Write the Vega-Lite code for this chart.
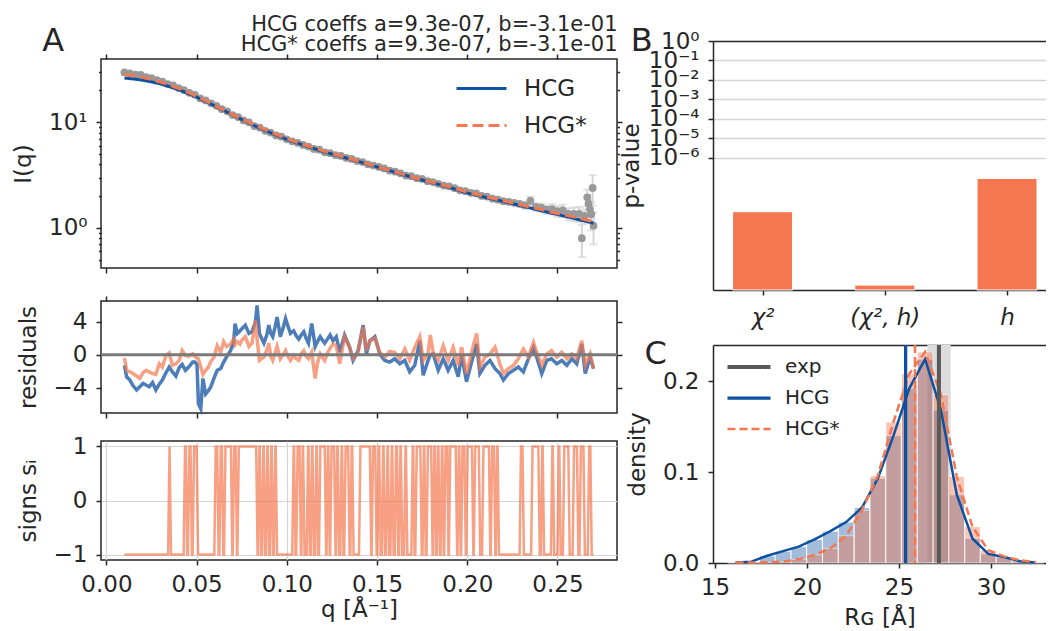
{
"$schema": "https://vega.github.io/schema/vega-lite/v6.json",
"padding": {"left": 11, "top": 12, "right": 0, "bottom": 0},
"datasets": {
"exp": [{"q":0.010,"I":29.6},{"q":0.013,"I":29.0},{"q":0.016,"I":28.2},{"q":0.019,"I":28.1},{"q":0.022,"I":26.8},{"q":0.025,"I":26.2},{"q":0.028,"I":25.1},{"q":0.031,"I":24.3},{"q":0.034,"I":23.0},{"q":0.037,"I":22.3},{"q":0.040,"I":21.1},{"q":0.043,"I":20.2},{"q":0.046,"I":19.0},{"q":0.049,"I":18.2},{"q":0.052,"I":16.8},{"q":0.055,"I":16.1},{"q":0.058,"I":15.1},{"q":0.061,"I":14.3},{"q":0.064,"I":13.3},{"q":0.067,"I":12.7},{"q":0.070,"I":11.7},{"q":0.073,"I":11.2},{"q":0.076,"I":10.4},{"q":0.079,"I":10.0},{"q":0.082,"I":9.2},{"q":0.085,"I":8.9},{"q":0.088,"I":8.3},{"q":0.091,"I":8.0},{"q":0.094,"I":7.5},{"q":0.097,"I":7.3},{"q":0.100,"I":6.9},{"q":0.103,"I":6.6},{"q":0.106,"I":6.4},{"q":0.109,"I":6.1},{"q":0.112,"I":5.9},{"q":0.115,"I":5.6},{"q":0.118,"I":5.5},{"q":0.121,"I":5.2},{"q":0.124,"I":5.1},{"q":0.127,"I":4.9},{"q":0.130,"I":4.8},{"q":0.133,"I":4.6},{"q":0.136,"I":4.5},{"q":0.139,"I":4.3},{"q":0.142,"I":4.2},{"q":0.145,"I":4.0},{"q":0.148,"I":3.9},{"q":0.151,"I":3.78},{"q":0.154,"I":3.66},{"q":0.157,"I":3.49},{"q":0.160,"I":3.41},{"q":0.163,"I":3.29},{"q":0.166,"I":3.13},{"q":0.169,"I":3.09},{"q":0.172,"I":2.96},{"q":0.175,"I":2.91},{"q":0.178,"I":2.77},{"q":0.181,"I":2.72},{"q":0.184,"I":2.62},{"q":0.187,"I":2.52},{"q":0.190,"I":2.48},{"q":0.193,"I":2.38},{"q":0.196,"I":2.27},{"q":0.199,"I":2.23},{"q":0.202,"I":2.15},{"q":0.205,"I":2.12},{"q":0.208,"I":2.01},{"q":0.211,"I":1.98},{"q":0.214,"I":1.89},{"q":0.217,"I":1.85},{"q":0.220,"I":1.79},{"q":0.223,"I":1.77},{"q":0.226,"I":1.73},{"q":0.229,"I":1.69},{"q":0.232,"I":1.64},{"q":0.235,"I":1.80},{"q":0.238,"I":1.58},{"q":0.241,"I":1.56},{"q":0.244,"I":1.49},{"q":0.247,"I":1.51},{"q":0.250,"I":1.44},{"q":0.253,"I":1.47},{"q":0.256,"I":1.36},{"q":0.259,"I":1.36},{"q":0.262,"I":1.36},{"q":0.2635,"I":0.80},{"q":0.265,"I":1.30},{"q":0.2665,"I":1.95},{"q":0.2672,"I":1.70},{"q":0.268,"I":1.50},{"q":0.2688,"I":1.35},{"q":0.2695,"I":2.39},{"q":0.270,"I":1.05}],
"err": [{"q":0.232,"lo":1.52,"hi":1.76},{"q":0.235,"lo":1.62,"hi":1.98},{"q":0.238,"lo":1.45,"hi":1.71},{"q":0.241,"lo":1.42,"hi":1.70},{"q":0.244,"lo":1.35,"hi":1.63},{"q":0.247,"lo":1.34,"hi":1.68},{"q":0.250,"lo":1.27,"hi":1.61},{"q":0.253,"lo":1.28,"hi":1.66},{"q":0.256,"lo":1.18,"hi":1.54},{"q":0.259,"lo":1.16,"hi":1.56},{"q":0.262,"lo":1.14,"hi":1.58},{"q":0.2635,"lo":0.53,"hi":1.07},{"q":0.265,"lo":1.10,"hi":1.50},{"q":0.2665,"lo":1.60,"hi":2.30},{"q":0.2672,"lo":1.35,"hi":2.05},{"q":0.268,"lo":1.15,"hi":1.85},{"q":0.2688,"lo":0.95,"hi":1.75},{"q":0.2695,"lo":1.62,"hi":3.16},{"q":0.270,"lo":0.70,"hi":1.40}],
"fit": [{"q":0.01,"model":"HCG","I":26.2},{"q":0.02,"model":"HCG","I":25.0},{"q":0.03,"model":"HCG","I":23.0},{"q":0.04,"model":"HCG","I":20.3},{"q":0.05,"model":"HCG","I":17.3},{"q":0.06,"model":"HCG","I":14.3},{"q":0.07,"model":"HCG","I":11.75},{"q":0.08,"model":"HCG","I":9.65},{"q":0.09,"model":"HCG","I":8.1},{"q":0.10,"model":"HCG","I":6.9},{"q":0.11,"model":"HCG","I":6.02},{"q":0.12,"model":"HCG","I":5.3},{"q":0.13,"model":"HCG","I":4.74},{"q":0.14,"model":"HCG","I":4.24},{"q":0.15,"model":"HCG","I":3.78},{"q":0.16,"model":"HCG","I":3.37},{"q":0.17,"model":"HCG","I":3.0},{"q":0.18,"model":"HCG","I":2.7},{"q":0.19,"model":"HCG","I":2.42},{"q":0.20,"model":"HCG","I":2.15},{"q":0.21,"model":"HCG","I":1.95},{"q":0.22,"model":"HCG","I":1.78},{"q":0.23,"model":"HCG","I":1.62},{"q":0.24,"model":"HCG","I":1.47},{"q":0.25,"model":"HCG","I":1.34},{"q":0.26,"model":"HCG","I":1.22},{"q":0.27,"model":"HCG","I":1.11},
{"q":0.01,"model":"HCG*","I":28.3},{"q":0.02,"model":"HCG*","I":26.6},{"q":0.03,"model":"HCG*","I":24.0},{"q":0.04,"model":"HCG*","I":20.9},{"q":0.05,"model":"HCG*","I":17.6},{"q":0.06,"model":"HCG*","I":14.45},{"q":0.07,"model":"HCG*","I":11.83},{"q":0.08,"model":"HCG*","I":9.77},{"q":0.09,"model":"HCG*","I":8.22},{"q":0.10,"model":"HCG*","I":7.0},{"q":0.11,"model":"HCG*","I":6.1},{"q":0.12,"model":"HCG*","I":5.37},{"q":0.13,"model":"HCG*","I":4.79},{"q":0.14,"model":"HCG*","I":4.27},{"q":0.15,"model":"HCG*","I":3.8},{"q":0.16,"model":"HCG*","I":3.39},{"q":0.17,"model":"HCG*","I":3.02},{"q":0.18,"model":"HCG*","I":2.72},{"q":0.19,"model":"HCG*","I":2.45},{"q":0.20,"model":"HCG*","I":2.18},{"q":0.21,"model":"HCG*","I":1.98},{"q":0.22,"model":"HCG*","I":1.81},{"q":0.23,"model":"HCG*","I":1.65},{"q":0.24,"model":"HCG*","I":1.51},{"q":0.25,"model":"HCG*","I":1.37},{"q":0.26,"model":"HCG*","I":1.26},{"q":0.27,"model":"HCG*","I":1.15}],
"res": [{"q":0.0100,"rH":-1.3,"rS":-0.4},{"q":0.0112,"rH":-2.7,"rS":-1.9},{"q":0.0130,"rH":-3.1,"rS":-2.1},{"q":0.0148,"rH":-3.8,"rS":-2.3},{"q":0.0167,"rH":-4.3,"rS":-2.6},{"q":0.0185,"rH":-3.9,"rS":-2.9},{"q":0.0203,"rH":-3.5,"rS":-2.2},{"q":0.0220,"rH":-3.7,"rS":-1.9},{"q":0.0237,"rH":-3.9,"rS":-2.1},{"q":0.0256,"rH":-3.4,"rS":-2.3},{"q":0.0274,"rH":-4.3,"rS":-2.4},{"q":0.0293,"rH":-3.6,"rS":-1.1},{"q":0.0310,"rH":-3.1,"rS":-1.5},{"q":0.0330,"rH":-2.2,"rS":-0.1},{"q":0.0348,"rH":-1.5,"rS":0.2},{"q":0.0366,"rH":-2.1,"rS":-1.3},{"q":0.0385,"rH":-2.6,"rS":-1.1},{"q":0.0403,"rH":-1.6,"rS":-0.7},{"q":0.0420,"rH":-1.2,"rS":0.5},{"q":0.0438,"rH":-1.9,"rS":-0.1},{"q":0.0456,"rH":-1.5,"rS":-0.2},{"q":0.0478,"rH":-0.9,"rS":0.1},{"q":0.0490,"rH":-0.9,"rS":-0.2},{"q":0.0502,"rH":-1.2,"rS":-0.4},{"q":0.0510,"rH":-6.0,"rS":-0.5},{"q":0.0523,"rH":-6.6,"rS":-1.5},{"q":0.0535,"rH":-2.9,"rS":-2.4},{"q":0.0550,"rH":-4.8,"rS":-1.9},{"q":0.0565,"rH":-4.4,"rS":-1.5},{"q":0.0577,"rH":-4.0,"rS":-0.9},{"q":0.0596,"rH":-2.9,"rS":-0.3},{"q":0.0614,"rH":-1.9,"rS":1.1},{"q":0.0633,"rH":-1.7,"rS":0.3},{"q":0.0650,"rH":-0.9,"rS":1.6},{"q":0.0665,"rH":-0.3,"rS":1.0},{"q":0.0688,"rH":0.5,"rS":1.3},{"q":0.0705,"rH":1.5,"rS":1.9},{"q":0.0713,"rH":3.8,"rS":1.2},{"q":0.0726,"rH":2.6,"rS":1.6},{"q":0.0740,"rH":2.9,"rS":1.3},{"q":0.0752,"rH":3.2,"rS":1.8},{"q":0.0770,"rH":3.6,"rS":2.2},{"q":0.0790,"rH":2.6,"rS":1.0},{"q":0.0807,"rH":2.8,"rS":1.4},{"q":0.0826,"rH":4.0,"rS":4.2},{"q":0.0835,"rH":6.0,"rS":2.0},{"q":0.0848,"rH":2.6,"rS":-0.7},{"q":0.0860,"rH":2.0,"rS":-0.5},{"q":0.0873,"rH":1.4,"rS":-0.3},{"q":0.0890,"rH":2.5,"rS":0.6},{"q":0.0900,"rH":3.6,"rS":1.4},{"q":0.0911,"rH":2.6,"rS":-0.2},{"q":0.0922,"rH":2.2,"rS":-0.7},{"q":0.0935,"rH":3.4,"rS":0.2},{"q":0.0946,"rH":4.6,"rS":1.0},{"q":0.0964,"rH":2.2,"rS":-0.5},{"q":0.0980,"rH":3.3,"rS":0.0},{"q":0.0993,"rH":4.4,"rS":0.5},{"q":0.1006,"rH":3.5,"rS":-0.2},{"q":0.1020,"rH":2.6,"rS":-0.7},{"q":0.1038,"rH":2.9,"rS":-0.1},{"q":0.1052,"rH":2.3,"rS":-0.5},{"q":0.1066,"rH":1.9,"rS":-0.7},{"q":0.1080,"rH":2.4,"rS":0.1},{"q":0.1094,"rH":2.8,"rS":0.5},{"q":0.1107,"rH":2.0,"rS":-0.2},{"q":0.1120,"rH":1.4,"rS":-0.5},{"q":0.1138,"rH":3.8,"rS":0.3},{"q":0.1157,"rH":1.0,"rS":-2.9},{"q":0.1170,"rH":1.6,"rS":-1.0},{"q":0.1185,"rH":2.2,"rS":0.1},{"q":0.1197,"rH":1.8,"rS":-0.3},{"q":0.1210,"rH":1.4,"rS":-0.7},{"q":0.1225,"rH":1.9,"rS":0.2},{"q":0.1240,"rH":2.4,"rS":0.8},{"q":0.1256,"rH":1.7,"rS":1.3},{"q":0.1274,"rH":2.2,"rS":1.1},{"q":0.1293,"rH":0.3,"rS":-1.1},{"q":0.1320,"rH":2.4,"rS":2.2},{"q":0.1348,"rH":0.9,"rS":0.9},{"q":0.1367,"rH":-0.7,"rS":-0.5},{"q":0.1395,"rH":0.5,"rS":0.3},{"q":0.1423,"rH":3.6,"rS":3.4},{"q":0.1441,"rH":0.1,"rS":0.5},{"q":0.1460,"rH":1.7,"rS":1.7},{"q":0.1488,"rH":2.2,"rS":2.0},{"q":0.1515,"rH":0.1,"rS":0.3},{"q":0.1543,"rH":-0.7,"rS":-0.3},{"q":0.1570,"rH":-0.9,"rS":0.4},{"q":0.1598,"rH":-0.5,"rS":0.3},{"q":0.1626,"rH":-1.1,"rS":-0.5},{"q":0.1654,"rH":-0.7,"rS":0.7},{"q":0.1681,"rH":-2.1,"rS":-0.7},{"q":0.1709,"rH":-1.3,"rS":0.9},{"q":0.1737,"rH":1.7,"rS":2.2},{"q":0.1756,"rH":-2.5,"rS":-0.7},{"q":0.1783,"rH":-0.7,"rS":0.2},{"q":0.1795,"rH":0.0,"rS":2.4},{"q":0.1811,"rH":0.1,"rS":0.3},{"q":0.1839,"rH":-1.9,"rS":-0.7},{"q":0.1867,"rH":-0.5,"rS":1.1},{"q":0.1894,"rH":-1.9,"rS":-0.7},{"q":0.1922,"rH":-0.7,"rS":0.9},{"q":0.1950,"rH":-2.7,"rS":-1.3},{"q":0.1969,"rH":-0.1,"rS":0.9},{"q":0.1996,"rH":-3.3,"rS":-2.3},{"q":0.2024,"rH":-0.9,"rS":0.3},{"q":0.2052,"rH":1.3,"rS":2.6},{"q":0.2070,"rH":-2.3,"rS":-1.5},{"q":0.2098,"rH":-1.3,"rS":-0.3},{"q":0.2126,"rH":-0.7,"rS":0.1},{"q":0.2154,"rH":-1.7,"rS":0.9},{"q":0.2181,"rH":-2.3,"rS":-1.1},{"q":0.2200,"rH":-3.1,"rS":-2.3},{"q":0.2228,"rH":-2.3,"rS":-1.7},{"q":0.2256,"rH":-1.9,"rS":-1.3},{"q":0.2283,"rH":-1.5,"rS":-0.5},{"q":0.2311,"rH":-2.1,"rS":0.7},{"q":0.2339,"rH":-0.5,"rS":-0.3},{"q":0.2367,"rH":0.9,"rS":1.5},{"q":0.2385,"rH":-0.3,"rS":0.3},{"q":0.2413,"rH":-2.3,"rS":-1.3},{"q":0.2441,"rH":-0.7,"rS":0.1},{"q":0.2467,"rH":-0.5,"rS":0.5},{"q":0.2496,"rH":-1.1,"rS":-0.3},{"q":0.2524,"rH":-0.7,"rS":0.3},{"q":0.2552,"rH":-1.3,"rS":-0.5},{"q":0.2580,"rH":-0.5,"rS":0.1},{"q":0.2607,"rH":-1.1,"rS":-0.5},{"q":0.2635,"rH":1.3,"rS":1.7},{"q":0.2654,"rH":-2.3,"rS":-1.3},{"q":0.2681,"rH":-0.3,"rS":0.1},{"q":0.2700,"rH":-1.7,"rS":-1.7}],
"signs": [{"q":0.01,"s":-1},{"q":0.0342,"s":-1},{"q":0.035,"s":1},{"q":0.0358,"s":-1},{"q":0.0428,"s":-1},{"q":0.0436,"s":1},{"q":0.044,"s":1},{"q":0.0448,"s":-1},{"q":0.0452,"s":-1},{"q":0.046,"s":1},{"q":0.0466,"s":1},{"q":0.0474,"s":-1},{"q":0.0478,"s":-1},{"q":0.0486,"s":1},{"q":0.05,"s":1},{"q":0.0508,"s":-1},{"q":0.0598,"s":-1},{"q":0.0606,"s":1},{"q":0.0614,"s":1},{"q":0.0622,"s":-1},{"q":0.0626,"s":-1},{"q":0.0634,"s":1},{"q":0.064,"s":1},{"q":0.0648,"s":-1},{"q":0.0652,"s":-1},{"q":0.066,"s":1},{"q":0.069,"s":1},{"q":0.0698,"s":-1},{"q":0.07,"s":-1},{"q":0.0708,"s":1},{"q":0.0716,"s":1},{"q":0.0724,"s":-1},{"q":0.0726,"s":-1},{"q":0.0734,"s":1},{"q":0.083,"s":1},{"q":0.0838,"s":-1},{"q":0.084,"s":-1},{"q":0.0848,"s":1},{"q":0.085,"s":1},{"q":0.0858,"s":-1},{"q":0.0862,"s":-1},{"q":0.087,"s":1},{"q":0.0872,"s":1},{"q":0.088,"s":-1},{"q":0.0884,"s":-1},{"q":0.0892,"s":1},{"q":0.0894,"s":1},{"q":0.0902,"s":-1},{"q":0.0906,"s":-1},{"q":0.0914,"s":1},{"q":0.0916,"s":1},{"q":0.0924,"s":-1},{"q":0.0928,"s":-1},{"q":0.0936,"s":1},{"q":0.0938,"s":1},{"q":0.0946,"s":-1},{"q":0.103,"s":-1},{"q":0.1038,"s":1},{"q":0.104,"s":1},{"q":0.1048,"s":-1},{"q":0.1052,"s":-1},{"q":0.106,"s":1},{"q":0.107,"s":1},{"q":0.1078,"s":-1},{"q":0.108,"s":-1},{"q":0.1088,"s":1},{"q":0.109,"s":1},{"q":0.1098,"s":-1},{"q":0.111,"s":-1},{"q":0.1118,"s":1},{"q":0.112,"s":1},{"q":0.1128,"s":-1},{"q":0.1132,"s":-1},{"q":0.114,"s":1},{"q":0.1142,"s":1},{"q":0.115,"s":-1},{"q":0.1156,"s":-1},{"q":0.1164,"s":1},{"q":0.1166,"s":1},{"q":0.1174,"s":-1},{"q":0.1178,"s":-1},{"q":0.1186,"s":1},{"q":0.121,"s":1},{"q":0.1218,"s":-1},{"q":0.122,"s":-1},{"q":0.1228,"s":1},{"q":0.123,"s":1},{"q":0.1238,"s":-1},{"q":0.124,"s":-1},{"q":0.1248,"s":1},{"q":0.1262,"s":1},{"q":0.127,"s":-1},{"q":0.1272,"s":-1},{"q":0.128,"s":1},{"q":0.1282,"s":1},{"q":0.129,"s":-1},{"q":0.1296,"s":-1},{"q":0.1304,"s":1},{"q":0.1306,"s":1},{"q":0.1314,"s":-1},{"q":0.1318,"s":-1},{"q":0.1326,"s":1},{"q":0.134,"s":1},{"q":0.1348,"s":-1},{"q":0.1352,"s":-1},{"q":0.136,"s":1},{"q":0.1362,"s":1},{"q":0.137,"s":-1},{"q":0.14,"s":-1},{"q":0.1408,"s":1},{"q":0.146,"s":1},{"q":0.1468,"s":-1},{"q":0.147,"s":-1},{"q":0.1478,"s":1},{"q":0.149,"s":1},{"q":0.1498,"s":-1},{"q":0.1502,"s":-1},{"q":0.151,"s":1},{"q":0.1512,"s":1},{"q":0.152,"s":-1},{"q":0.1526,"s":-1},{"q":0.1534,"s":1},{"q":0.1536,"s":1},{"q":0.1544,"s":-1},{"q":0.155,"s":-1},{"q":0.1558,"s":1},{"q":0.156,"s":1},{"q":0.1568,"s":-1},{"q":0.1574,"s":-1},{"q":0.1582,"s":1},{"q":0.1584,"s":1},{"q":0.1592,"s":-1},{"q":0.1598,"s":-1},{"q":0.1606,"s":1},{"q":0.161,"s":1},{"q":0.1618,"s":-1},{"q":0.1622,"s":-1},{"q":0.163,"s":1},{"q":0.1632,"s":1},{"q":0.164,"s":-1},{"q":0.165,"s":-1},{"q":0.1658,"s":1},{"q":0.166,"s":1},{"q":0.1668,"s":-1},{"q":0.169,"s":-1},{"q":0.1698,"s":1},{"q":0.17,"s":1},{"q":0.1708,"s":-1},{"q":0.1712,"s":-1},{"q":0.172,"s":1},{"q":0.174,"s":1},{"q":0.1748,"s":-1},{"q":0.1752,"s":-1},{"q":0.176,"s":1},{"q":0.1762,"s":1},{"q":0.177,"s":-1},{"q":0.1774,"s":-1},{"q":0.1782,"s":1},{"q":0.18,"s":1},{"q":0.1808,"s":-1},{"q":0.181,"s":-1},{"q":0.1818,"s":1},{"q":0.182,"s":1},{"q":0.1828,"s":-1},{"q":0.183,"s":-1},{"q":0.1838,"s":1},{"q":0.184,"s":1},{"q":0.1848,"s":-1},{"q":0.1852,"s":-1},{"q":0.186,"s":1},{"q":0.1862,"s":1},{"q":0.187,"s":-1},{"q":0.1872,"s":-1},{"q":0.188,"s":1},{"q":0.189,"s":1},{"q":0.1896,"s":-1},{"q":0.1898,"s":-1},{"q":0.1906,"s":1},{"q":0.1936,"s":1},{"q":0.1944,"s":-1},{"q":0.1946,"s":-1},{"q":0.1954,"s":1},{"q":0.1956,"s":1},{"q":0.1964,"s":-1},{"q":0.1966,"s":-1},{"q":0.1974,"s":1},{"q":0.1984,"s":1},{"q":0.1992,"s":-1},{"q":0.1994,"s":-1},{"q":0.2002,"s":1},{"q":0.2026,"s":1},{"q":0.2034,"s":-1},{"q":0.2036,"s":-1},{"q":0.2044,"s":1},{"q":0.2064,"s":1},{"q":0.2072,"s":-1},{"q":0.2082,"s":-1},{"q":0.209,"s":1},{"q":0.212,"s":1},{"q":0.2128,"s":-1},{"q":0.213,"s":-1},{"q":0.2138,"s":1},{"q":0.2148,"s":1},{"q":0.2156,"s":-1},{"q":0.2158,"s":-1},{"q":0.2166,"s":1},{"q":0.2168,"s":1},{"q":0.2176,"s":-1},{"q":0.229,"s":-1},{"q":0.2298,"s":1},{"q":0.2306,"s":1},{"q":0.2314,"s":-1},{"q":0.2354,"s":-1},{"q":0.2362,"s":1},{"q":0.2394,"s":1},{"q":0.2402,"s":-1},{"q":0.2408,"s":-1},{"q":0.2416,"s":1},{"q":0.2418,"s":1},{"q":0.2426,"s":-1},{"q":0.2464,"s":-1},{"q":0.2472,"s":1},{"q":0.2474,"s":1},{"q":0.2482,"s":-1},{"q":0.25,"s":-1},{"q":0.2508,"s":1},{"q":0.251,"s":1},{"q":0.2518,"s":-1},{"q":0.253,"s":-1},{"q":0.2538,"s":1},{"q":0.256,"s":1},{"q":0.2568,"s":-1},{"q":0.2584,"s":-1},{"q":0.2592,"s":1},{"q":0.2608,"s":1},{"q":0.2616,"s":-1},{"q":0.2622,"s":-1},{"q":0.263,"s":1},{"q":0.2644,"s":1},{"q":0.2652,"s":-1},{"q":0.2668,"s":-1},{"q":0.2676,"s":1},{"q":0.2682,"s":1},{"q":0.269,"s":-1},{"q":0.27,"s":-1}],
"pv": [{"test":"χ²","k":0,"p":1.65e-9},{"test":"(χ², h)","k":1,"p":2.77e-13},{"test":"h","k":2,"p":8.5e-8}],
"hist": [{"c":16.12,"lo":15.69,"hi":16.55,"h":0.0005,"s":0.0005},{"c":16.98,"lo":16.55,"hi":17.41,"h":0.0015,"s":0.0005},{"c":17.84,"lo":17.41,"hi":18.27,"h":0.008,"s":0.0008},{"c":18.70,"lo":18.27,"hi":19.13,"h":0.013,"s":0.0015},{"c":19.55,"lo":19.13,"hi":19.98,"h":0.018,"s":0.004},{"c":20.41,"lo":19.98,"hi":20.84,"h":0.026,"s":0.009},{"c":21.27,"lo":20.84,"hi":21.70,"h":0.035,"s":0.016},{"c":22.13,"lo":21.70,"hi":22.56,"h":0.045,"s":0.030},{"c":22.99,"lo":22.56,"hi":23.42,"h":0.061,"s":0.058},{"c":23.85,"lo":23.42,"hi":24.28,"h":0.093,"s":0.096},{"c":24.70,"lo":24.28,"hi":25.13,"h":0.140,"s":0.155},{"c":25.56,"lo":25.13,"hi":25.99,"h":0.192,"s":0.208},{"c":26.42,"lo":25.99,"hi":26.85,"h":0.224,"s":0.232},{"c":27.28,"lo":26.85,"hi":27.71,"h":0.168,"s":0.185},{"c":28.14,"lo":27.71,"hi":28.57,"h":0.075,"s":0.095},{"c":28.99,"lo":28.57,"hi":29.42,"h":0.027,"s":0.040},{"c":29.85,"lo":29.42,"hi":30.28,"h":0.010,"s":0.014},{"c":30.71,"lo":30.28,"hi":31.14,"h":0.0066,"s":0.0073},{"c":31.57,"lo":31.14,"hi":32.00,"h":0.002,"s":0.003},{"c":32.43,"lo":32.00,"hi":32.86,"h":0.0005,"s":0.0008}],
"band": [{"lo":26.54,"hi":27.81}],
"vl": [{"name":"exp","v":27.17},{"name":"HCG","v":25.36},{"name":"HCG*","v":25.87}]
},
"concat": [
 {"vconcat": [
  {"width": 516, "height": 209,
   "layer": [
    {"data": {"name": "err"}, "mark": {"type": "rule", "color": "#d6d6d6", "strokeWidth": 2},
     "encoding": {"x": {"field": "q", "type": "quantitative", "scale": {"domain": [-0.003, 0.283], "nice": false, "zero": false}, "axis": null},
      "y": {"field": "lo", "type": "quantitative", "scale": {"type": "log", "domain": [0.418, 39.7], "nice": false}, "axis": null}, "y2": {"field": "hi"}}},
    {"data": {"name": "err"}, "mark": {"type": "tick", "orient": "horizontal", "color": "#d6d6d6", "size": 8, "thickness": 2},
     "encoding": {"x": {"field": "q", "type": "quantitative", "scale": {"domain": [-0.003, 0.283], "nice": false, "zero": false}, "axis": null},
      "y": {"field": "lo", "type": "quantitative", "scale": {"type": "log", "domain": [0.418, 39.7], "nice": false}, "axis": null}}},
    {"data": {"name": "err"}, "mark": {"type": "tick", "orient": "horizontal", "color": "#d6d6d6", "size": 8, "thickness": 2},
     "encoding": {"x": {"field": "q", "type": "quantitative", "scale": {"domain": [-0.003, 0.283], "nice": false, "zero": false}, "axis": null},
      "y": {"field": "hi", "type": "quantitative", "scale": {"type": "log", "domain": [0.418, 39.7], "nice": false}, "axis": null}}},
    {"data": {"name": "exp"}, "mark": {"type": "circle", "size": 60, "color": "#999999", "opacity": 1},
     "encoding": {"x": {"field": "q", "type": "quantitative", "scale": {"domain": [-0.003, 0.283], "nice": false, "zero": false}, "axis": {"orient": "bottom", "values": [0, 0.05, 0.1, 0.15, 0.2, 0.25], "labels": false, "title": null, "minExtent": 11}},
      "y": {"field": "I", "type": "quantitative", "scale": {"type": "log", "domain": [0.418, 39.7], "nice": false}, "axis": {"orient": "left", "values": [0.5,0.6,0.7,0.8,0.9,1,2,3,4,5,6,7,8,9,10,20,30], "tickSize": {"condition": {"test": "datum.value == 1 || datum.value == 10", "value": 5}, "value": 2.5}, "labelExpr": "datum.value == 1 ? '10⁰' : datum.value == 10 ? '10¹' : ''", "title": "I(q)", "titlePadding": 13}}}},
    {"data": {"name": "fit"}, "mark": {"type": "line", "strokeWidth": 3, "interpolate": "monotone"},
     "encoding": {"x": {"field": "q", "type": "quantitative", "scale": {"domain": [-0.003, 0.283], "nice": false, "zero": false}, "axis": {"orient": "top", "values": [0, 0.05, 0.1, 0.15, 0.2, 0.25], "labels": false, "title": ["HCG coeffs a=9.3e-07, b=-3.1e-01", "HCG* coeffs a=9.3e-07, b=-3.1e-01"], "titleAnchor": "end", "titleFontSize": 21, "titleLineHeight": 20, "titlePadding": -1}},
      "y": {"field": "I", "type": "quantitative", "scale": {"type": "log", "domain": [0.418, 39.7], "nice": false}, "axis": {"orient": "right", "values": [0.5,0.6,0.7,0.8,0.9,1,2,3,4,5,6,7,8,9,10,20,30], "tickSize": {"condition": {"test": "datum.value == 1 || datum.value == 10", "value": 5}, "value": 2.5}, "labels": false, "title": null}},
      "color": {"field": "model", "type": "nominal", "scale": {"domain": ["HCG", "HCG*"], "range": ["#0d52a0", "#f4774f"]}, "legend": {"orient": "none", "legendX": 369, "legendY": 18, "title": null, "labelFontSize": 23, "labelColor": "#262626", "symbolType": "M-5,0H5", "symbolSize": 100, "symbolStrokeWidth": 3, "labelOffset": 31, "rowPadding": 13, "padding": 0}},
      "strokeDash": {"field": "model", "type": "nominal", "scale": {"domain": ["HCG", "HCG*"], "range": [[1, 0], [11, 5]]}, "legend": {"orient": "none", "legendX": 369, "legendY": 18, "title": null, "labelFontSize": 23, "labelColor": "#262626", "symbolType": "M-5,0H5", "symbolSize": 100, "symbolStrokeWidth": 3, "labelOffset": 31, "rowPadding": 13, "padding": 0}}}},
    {"data": {"values": [{"label": "A"}]}, "mark": {"type": "text", "fontSize": 32, "align": "left", "baseline": "alphabetic", "color": "#262626"},
     "encoding": {"x": {"datum": -0.0356, "type": "quantitative", "scale": {"domain": [-0.003, 0.283], "nice": false, "zero": false}, "axis": null},
      "y": {"datum": 47, "type": "quantitative", "scale": {"type": "log", "domain": [0.418, 39.7], "nice": false}, "axis": null}, "text": {"field": "label"}}}
   ],
   "resolve": {"axis": {"x": "independent", "y": "independent"}}
  },
  {"width": 516, "height": 112,
   "data": {"name": "res"},
   "layer": [
    {"mark": {"type": "line", "color": "#1f5da8", "opacity": 0.8, "strokeWidth": 3.5},
     "encoding": {"x": {"field": "q", "type": "quantitative", "scale": {"domain": [-0.003, 0.283], "nice": false, "zero": false}, "axis": {"orient": "bottom", "values": [0, 0.05, 0.1, 0.15, 0.2, 0.25], "labels": false, "title": null}},
      "y": {"field": "rH", "type": "quantitative", "scale": {"domain": [-7.11, 6.55], "nice": false, "zero": false}, "axis": {"orient": "left", "values": [-4, 0, 4], "title": "residuals", "titlePadding": 13}}}},
    {"mark": {"type": "line", "color": "#f4774f", "opacity": 0.7, "strokeWidth": 3.5},
     "encoding": {"x": {"field": "q", "type": "quantitative", "scale": {"domain": [-0.003, 0.283], "nice": false, "zero": false}, "axis": {"orient": "top", "values": [0, 0.05, 0.1, 0.15, 0.2, 0.25], "labels": false, "title": null}},
      "y": {"field": "rS", "type": "quantitative", "scale": {"domain": [-7.11, 6.55], "nice": false, "zero": false}, "axis": {"orient": "right", "values": [-4, 0, 4], "labels": false, "title": null}}}},
    {"data": {"values": [{}]}, "mark": {"type": "rule", "color": "#7a7a7a", "strokeWidth": 3},
     "encoding": {"y": {"datum": 0, "type": "quantitative", "scale": {"domain": [-7.11, 6.55], "nice": false, "zero": false}, "axis": null}}}
   ],
   "resolve": {"axis": {"x": "independent", "y": "independent"}}
  },
  {"width": 516, "height": 119,
   "data": {"name": "signs"},
   "mark": {"type": "line", "color": "#f4774f", "opacity": 0.7, "strokeWidth": 2.5},
   "encoding": {"x": {"field": "q", "type": "quantitative", "scale": {"domain": [-0.003, 0.283], "nice": false, "zero": false}, "axis": {"values": [0, 0.05, 0.1, 0.15, 0.2, 0.25], "format": ".2f", "grid": true, "gridColor": "#d4d4d4", "gridWidth": 1.2, "labelPadding": 8, "title": "q  [Å⁻¹]", "titlePadding": 2}},
    "y": {"field": "s", "type": "quantitative", "scale": {"domain": [-1.1, 1.1], "nice": false, "zero": false}, "axis": {"values": [-1, 0, 1], "grid": true, "gridColor": "#d4d4d4", "gridWidth": 1.2, "title": "signs sᵢ", "titlePadding": 13}}}
  }
 ], "spacing": 14},
 {"vconcat": [
  {"width": 333, "height": 231,
   "view": {"stroke": null},
   "layer": [
    {"data": {"name": "pv"},
     "mark": {"type": "bar", "color": "#f4774f", "stroke": "white", "strokeWidth": 1, "size": 60},
     "encoding": {
      "x": {"field": "k", "type": "quantitative", "scale": {"domain": [-0.365, 2.278], "nice": false, "zero": false}, "axis": {"values": [0, 1, 2], "labelExpr": "datum.value == 0 ? 'χ²' : datum.value == 1 ? '(χ², h)' : 'h'", "title": null, "labelFontStyle": "italic", "labelPadding": 11, "domain": true, "domainColor": "#262626", "domainWidth": 1.5}},
      "y": {"field": "p", "type": "quantitative", "scale": {"type": "log", "domain": [1.55e-13, 1], "range": [231, -18], "nice": false}, "axis": {"values": [1, 0.1, 0.01, 0.001, 0.0001, 0.00001, 0.000001], "labelExpr": "datum.value > 0.5 ? '10⁰' : datum.value > 0.05 ? '10⁻¹' : datum.value > 0.005 ? '10⁻²' : datum.value > 0.0005 ? '10⁻³' : datum.value > 0.00005 ? '10⁻⁴' : datum.value > 0.000005 ? '10⁻⁵' : '10⁻⁶'", "grid": true, "gridColor": {"condition": {"test": "datum.value == 1", "value": "#262626"}, "value": "#d4d4d4"}, "gridWidth": 1.5, "domain": true, "domainColor": "#262626", "domainWidth": 1.5, "title": "p-value", "titlePadding": 5}},
      "y2": {"datum": 1.55e-13}
     }},
    {"data": {"values": [{"label": "B"}]}, "mark": {"type": "text", "fontSize": 32, "align": "left", "baseline": "alphabetic", "color": "#262626"},
     "encoding": {"x": {"datum": -1.079, "type": "quantitative", "scale": {"domain": [-0.365, 2.278], "nice": false, "zero": false}, "axis": null},
      "y": {"datum": 0.306, "type": "quantitative", "scale": {"type": "log", "domain": [1.55e-13, 1], "range": [231, -18], "nice": false}, "axis": null}, "text": {"field": "label"}}}
   ],
   "resolve": {"axis": {"x": "independent", "y": "independent"}}
  },
  {"width": 333, "height": 218,
   "view": {"stroke": null},
   "layer": [
    {"data": {"name": "band"}, "mark": {"type": "rect", "color": "#dcdcdc"},
     "encoding": {"x": {"field": "lo", "type": "quantitative", "scale": {"domain": [14.89, 32.99], "nice": false, "zero": false}, "axis": {"values": [15, 20, 25, 30], "title": "Rɢ [Å]", "titlePadding": 7, "labelPadding": 8, "domain": true, "domainColor": "#262626", "domainWidth": 1.5}}, "x2": {"field": "hi"}}},
    {"data": {"name": "hist"}, "mark": {"type": "rect", "color": "#0d52a0", "opacity": 0.38, "stroke": "white", "strokeWidth": 1},
     "encoding": {"x": {"field": "lo", "type": "quantitative", "scale": {"domain": [14.89, 32.99], "nice": false, "zero": false}, "axis": {"orient": "top", "domain": true, "domainColor": "#262626", "domainWidth": 1.5, "ticks": false, "labels": false, "title": null}}, "x2": {"field": "hi"},
      "y": {"field": "h", "type": "quantitative", "scale": {"domain": [0, 0.2396], "nice": false}, "axis": {"values": [0, 0.1, 0.2], "format": ".1f", "title": "density", "titlePadding": 13, "domain": true, "domainColor": "#262626", "domainWidth": 1.5}}, "y2": {"datum": 0}}},
    {"data": {"name": "hist"}, "mark": {"type": "rect", "color": "#f4774f", "opacity": 0.42, "stroke": "white", "strokeWidth": 1},
     "encoding": {"x": {"field": "lo", "type": "quantitative", "scale": {"domain": [14.89, 32.99], "nice": false, "zero": false}, "axis": null}, "x2": {"field": "hi"},
      "y": {"field": "s", "type": "quantitative", "scale": {"domain": [0, 0.2396], "nice": false}}, "y2": {"datum": 0}}},
    {"data": {"name": "hist"}, "mark": {"type": "line", "color": "#0d52a0", "strokeWidth": 2.5},
     "encoding": {"x": {"field": "c", "type": "quantitative", "scale": {"domain": [14.89, 32.99], "nice": false, "zero": false}, "axis": null},
      "y": {"field": "h", "type": "quantitative", "scale": {"domain": [0, 0.2396], "nice": false}}}},
    {"data": {"name": "hist"}, "mark": {"type": "line", "color": "#f4774f", "strokeWidth": 2.5, "strokeDash": [8, 4]},
     "encoding": {"x": {"field": "c", "type": "quantitative", "scale": {"domain": [14.89, 32.99], "nice": false, "zero": false}, "axis": null},
      "y": {"field": "s", "type": "quantitative", "scale": {"domain": [0, 0.2396], "nice": false}}}},
    {"data": {"name": "vl"}, "mark": {"type": "rule"},
     "encoding": {"x": {"field": "v", "type": "quantitative", "scale": {"domain": [14.89, 32.99], "nice": false, "zero": false}, "axis": null},
      "color": {"field": "name", "type": "nominal", "scale": {"domain": ["exp", "HCG", "HCG*"], "range": ["#595959", "#0d52a0", "#f4774f"]}, "legend": {"orient": "none", "legendX": 26, "legendY": 298, "title": null, "labelFontSize": 20, "labelColor": "#262626", "symbolType": "M-4.3,0H4.3", "symbolSize": 100, "labelOffset": 26, "rowPadding": 11, "padding": 0}},
      "strokeDash": {"field": "name", "type": "nominal", "scale": {"domain": ["exp", "HCG", "HCG*"], "range": [[1, 0], [1, 0], [8, 4]]}, "legend": {"orient": "none", "legendX": 26, "legendY": 298, "title": null, "labelFontSize": 20, "labelColor": "#262626", "symbolType": "M-4.3,0H4.3", "symbolSize": 100, "labelOffset": 26, "rowPadding": 11, "padding": 0}},
      "strokeWidth": {"field": "name", "type": "ordinal", "scale": {"domain": ["exp", "HCG", "HCG*"], "range": [4, 2.5, 2.5]}, "legend": {"orient": "none", "legendX": 26, "legendY": 298, "title": null, "labelFontSize": 20, "labelColor": "#262626", "symbolType": "M-4.3,0H4.3", "symbolSize": 100, "labelOffset": 26, "rowPadding": 11, "padding": 0}}}},
    {"data": {"values": [{"label": "C"}]}, "mark": {"type": "text", "fontSize": 32, "align": "left", "baseline": "alphabetic", "color": "#262626"},
     "encoding": {"x": {"datum": 11.17, "type": "quantitative", "scale": {"domain": [14.89, 32.99], "nice": false, "zero": false}, "axis": null},
      "y": {"datum": 0.2187, "type": "quantitative", "scale": {"domain": [0, 0.2396], "nice": false}}, "text": {"field": "label"}}}
   ],
   "resolve": {"axis": {"x": "independent"}}
  }
 ], "spacing": 9}
],
"columns": 2,
"align": "none",
"spacing": -4,
"resolve": {"scale": {"color": "independent", "strokeDash": "independent", "strokeWidth": "independent"}, "legend": {"color": "independent", "strokeDash": "independent", "strokeWidth": "independent"}},
"config": {
 "font": "DejaVu Sans",
 "background": "white",
 "view": {"stroke": "#262626", "strokeWidth": 1.5},
 "axis": {"domain": false, "grid": false, "ticks": true, "tickColor": "#262626", "tickWidth": 1.5, "tickSize": 5, "labelColor": "#262626", "labelFontSize": 23, "labelFont": "DejaVu Sans", "labelPadding": 9, "labelFlush": false, "labelOverlap": false, "titleColor": "#262626", "titleFontSize": 23, "titleFont": "DejaVu Sans", "titleFontWeight": "normal"},
 "legend": {"labelFont": "DejaVu Sans", "labelColor": "#262626"}
}
}
